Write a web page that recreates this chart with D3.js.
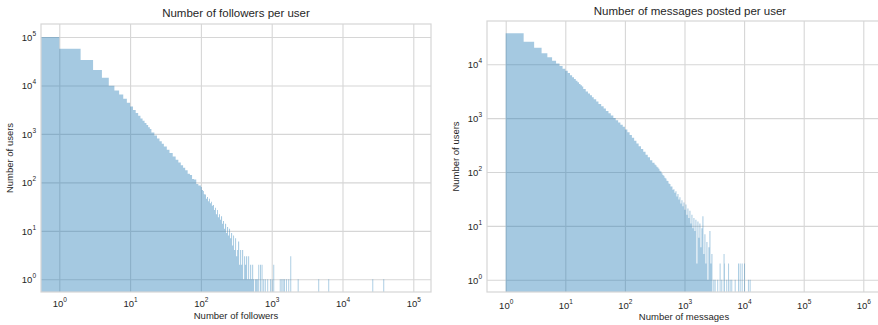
<!DOCTYPE html>
<html>
<head>
<meta charset="utf-8">
<script src="https://cdn.jsdelivr.net/npm/d3@7"></script>
<style>
  html, body { margin: 0; padding: 0; background: #ffffff; }
  svg { display: block; font-family: "Liberation Sans", Arial, Helvetica, sans-serif; }
</style>
</head>
<body>
<svg id="chart" width="878" height="325"></svg>
<script>
// ---------------- DATA ----------------
// Followers per user: histogram bin edges (last value = right edge of last bin) and counts
const followerEdges = [0,1,2,3,4,5,6,7,8,9,10,11,12,13,14,15,16,17,18,19,20,
  22,24,26,28,30,33,36,40,44,48,52,56,60,65,70,75,80,86,92,100,
  103,107,110,114,118,122,126,130,134,139,143,148,153,158,163,169,174,180,186,192,199,205,212,219,
  227,234,242,250,258,267,276,285,294,304,314,325,335,347,358,370,382,395,408,421,435,450,465,480,496,
  513,530,547,565,584];
const followerCounts = [100000,57300,33500,20800,14500,9900,7900,6500,5300,4400,3700,3120,2700,2370,2090,1870,1680,1520,1380,1265,
  1075,923,803,708,630,549,472,403,342,294,256,225,200,177,150,142,118,114,93,86,
  80,70,66,57,56,46,50,41,46,37,40,33,34,27,30,22,27,19,22,17,20,14,16,11,14,
  9,12,8,11,7,9,5,8,4,7,3,4,6,2,4,2,4,1,3,2,3,1,3,1,2,
  1,2,1,0];
// isolated single-value bins in the long tail
const followerTailValues = [581,602,624,647,684,720,760,800,866,945,1000,1054,1300,1370,1430,1490,1590,1715,1832,2330,4550,6300,26400,37700];
const followerTailCounts = [1,1,1,2,2,2,1,1,1,1,1,2,1,1,1,1,1,1,3,1,1,1,1,1];

// Messages posted per user
const messageEdges = [1,2,3,4,5,6,7,8,9,10,11,12,13,14,15,16,17,18,19,20,
  22,24,26,28,30,33,36,40,44,48,53,58,64,70,77,84,92,100,110,120,131,143,156,170,186,203,222,242,264,288,314,
  326,339,352,366,380,395,411,427,444,461,479,498,518,538,559,581,604,628,653,678,705,733,762,792,823,855,889,924,960,998,
  1037,1078,1120,1164,1210,1258,1307,1359,1412,1468,1525,1585,1648,1713,1780,1850,1923,1999,2077,2159,2244,2332,2424,2520,2619,2722,2829,2940];
const messageCounts = [37700,26300,20300,16000,13500,11700,10400,9300,8280,7600,6870,6270,5760,5320,4950,4620,4330,4070,3850,
  3460,3140,2870,2650,2455,2250,2040,1840,1660,1505,1363,1233,1117,1010,916,832,757,690,618,546,485,431,382,340,301,267,237,210,187,166,148,
  138,134,125,121,115,106,102,95,88,85,78,76,69,68,61,60,54,54,47,48,41,44,35,39,31,34,26,30,23,27,
  20,25,16,21,14,19,11,16,9,14,8,13,2,12,6,11,4,9,15,3,7,2,5,1,4,8,2,3];
const messageTailValues = [3050,3210,3550,3890,4150,4530,4600,5030,5400,5730,6110,6960,7910,8440,9120,9960,11600,12400];
const messageTailCounts = [1,1,1,2,1,3,2,1,2,1,1,1,2,2,2,2,1,1];

// tick values
const followerXTicks = [1,10,100,1000,10000,100000];
const followerYTicks = [1,10,100,1000,10000,100000];
const messageXTicks = [1,10,100,1000,10000,100000,1000000];
const messageYTicks = [1,10,100,1000,10000];

const titles = ["Number of followers per user", "Number of messages posted per user"];
const xLabels = ["Number of followers", "Number of messages"];
const yLabel = "Number of users";

// ---------------- LAYOUT ----------------
const svg = d3.select("#chart");
const gridColor = "#d6d6d6";
const textColor = "#262626";
const barColor = "#1f77b4";

const panels = [
  { box: {x0: 41, x1: 431, y0: 24, y1: 292},
    xDom: [1, 1e5], xRange: [59.3, 413.3],
    yDom: [1, 1e5], yRange: [279.3, 37],
    edges: followerEdges, counts: followerCounts,
    tailV: followerTailValues, tailC: followerTailCounts,
    xTicks: followerXTicks, yTicks: followerYTicks,
    title: titles[0], titleX: 236, titleY: 16.5, xLabel: xLabels[0], xLabelX: 236, xLabelY: 319, yLabelX: 13, tickY: 307 },
  { box: {x0: 487, x1: 884, y0: 21, y1: 292},
    xDom: [1, 1e6], xRange: [505.7, 863.3],
    yDom: [1, 1e4], yRange: [279.7, 64.3],
    edges: messageEdges, counts: messageCounts,
    tailV: messageTailValues, tailC: messageTailCounts,
    xTicks: messageXTicks, yTicks: messageYTicks,
    title: titles[1], titleX: 690, titleY: 14.5, xLabel: xLabels[1], xLabelX: 684, xLabelY: 320, yLabelX: 459, tickY: 309 }
];

const expo = d => String(Math.round(Math.log10(d)));

panels.forEach((p, i) => {
  const b = p.box;
  const x = d3.scaleLog().domain(p.xDom).range(p.xRange);
  const y = d3.scaleLog().domain(p.yDom).range(p.yRange);

  const clipId = "clip" + i;
  svg.append("clipPath").attr("id", clipId)
    .append("rect").attr("x", b.x0).attr("y", b.y0).attr("width", b.x1 - b.x0).attr("height", b.y1 - b.y0);

  // grid via axes
  const gx = svg.append("g").attr("transform", `translate(0,${b.y1})`)
    .call(d3.axisBottom(x).tickValues(p.xTicks).tickSizeInner(-(b.y1 - b.y0)).tickSizeOuter(0).tickFormat(() => ""));
  gx.select(".domain").remove();
  gx.selectAll(".tick line").attr("stroke", gridColor).attr("stroke-width", 1.1);

  const gy = svg.append("g").attr("transform", `translate(${b.x0},0)`)
    .call(d3.axisLeft(y).tickValues(p.yTicks).tickSizeInner(-(b.x1 - b.x0)).tickSizeOuter(0).tickFormat(() => ""));
  gy.select(".domain").remove();
  gy.selectAll(".tick line").attr("stroke", gridColor).attr("stroke-width", 1.1);

  // bars: one path so adjacent bins don't leave seams
  const bins = p.counts.map((c, k) => ({ a: p.edges[k], b: p.edges[k + 1], c }))
    .concat(p.tailV.map((v, k) => ({ a: v, b: v + 1, c: p.tailC[k] })))
    .filter(d => d.c > 0);

  const path = d3.path();
  bins.forEach(d => {
    const x0 = d.a <= 0 ? b.x0 - 2 : x(d.a);
    const w = Math.max(x(d.b) - x0, 0.9);
    const yt = y(d.c);
    path.rect(x0, yt, w, b.y1 + 2 - yt);
  });
  svg.append("path").attr("clip-path", `url(#${clipId})`)
    .attr("d", path.toString())
    .attr("fill", barColor).attr("fill-opacity", 0.4).attr("fill-rule", "nonzero");

  // frame
  svg.append("rect").attr("x", b.x0).attr("y", b.y0)
    .attr("width", b.x1 - b.x0).attr("height", b.y1 - b.y0)
    .attr("fill", "none").attr("stroke", gridColor).attr("stroke-width", 1.2);

  // x tick labels
  gx.selectAll(".tick text").each(function(d) {
    const t = d3.select(this).attr("y", p.tickY - b.y1).attr("dy", 0)
      .attr("fill", textColor).attr("font-size", 9.5).attr("text-anchor", "middle")
      .attr("font-family", "Liberation Sans, Arial, sans-serif").text(null);
    t.append("tspan").text("10");
    t.append("tspan").attr("dy", -5).attr("font-size", 6.5).text(expo(d));
  });
  // y tick labels
  gy.selectAll(".tick text").each(function(d) {
    const t = d3.select(this).attr("x", -5).attr("dy", "0.35em")
      .attr("fill", textColor).attr("font-size", 9.5).attr("text-anchor", "end")
      .attr("font-family", "Liberation Sans, Arial, sans-serif").text(null);
    t.append("tspan").text("10");
    t.append("tspan").attr("dy", -5).attr("font-size", 6.5).text(expo(d));
  });

  // title & labels
  svg.append("text").attr("x", p.titleX).attr("y", p.titleY)
    .attr("text-anchor", "middle").attr("font-size", 11.5).attr("fill", textColor).text(p.title);
  svg.append("text").attr("x", p.xLabelX).attr("y", p.xLabelY)
    .attr("text-anchor", "middle").attr("font-size", 9.5).attr("fill", textColor).text(p.xLabel);
  svg.append("text").attr("transform", `translate(${p.yLabelX},${(b.y0 + b.y1) / 2}) rotate(-90)`)
    .attr("text-anchor", "middle").attr("font-size", 9.5).attr("fill", textColor).text(yLabel);
});
</script>
</body>
</html>
